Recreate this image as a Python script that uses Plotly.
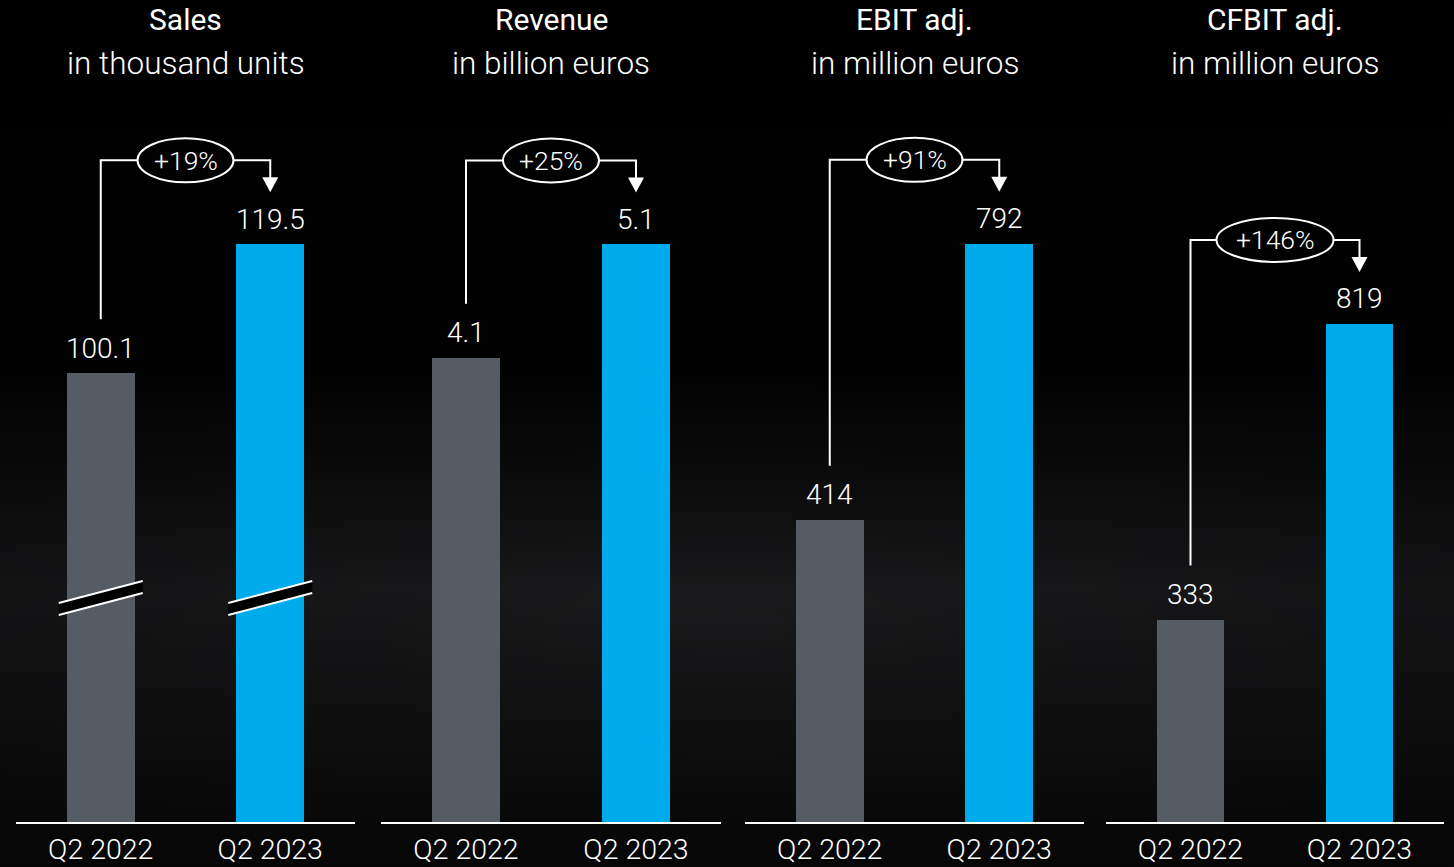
import base64
import plotly.graph_objects as go

# ---------------- data ----------------
categories = ["Q2 2022", "Q2 2023"]
titles = ["Sales", "Revenue", "EBIT adj.", "CFBIT adj."]
subtitles = ["in thousand units", "in billion euros", "in million euros", "in million euros"]
values_2022 = [100.1, 4.1, 414, 333]
values_2023 = [119.5, 5.1, 792, 819]
value_labels_2022 = ["100.1", "4.1", "414", "333"]
value_labels_2023 = ["119.5", "5.1", "792", "819"]
growth_labels = ["+19%", "+25%", "+91%", "+146%"]

# ---------------- style ----------------
GRAY = "#565c63"
BLUE = "#00abeb"
WHITE = "#ffffff"
FONT = "Roboto"
W, H = 1454, 867
x_domains = [(16, 355), (381, 721), (745, 1084), (1106, 1444)]
y_bottom_px, y_top_px = 822, 130
y_ranges = [(32.6, 136.7), (0, 6.11), (0, 948), (0, 1138)]
plot_h = y_bottom_px - y_top_px

# background gradient via SVG
svg = f'''<svg xmlns="http://www.w3.org/2000/svg" width="{W}" height="{H}" viewBox="0 0 {W} {H}" preserveAspectRatio="none">
<defs>
<linearGradient id="g" x1="0" y1="0" x2="0" y2="1">
<stop offset="0" stop-color="#000000"/>
<stop offset="0.42" stop-color="#020203"/>
<stop offset="0.68" stop-color="#1a1a1c"/>
<stop offset="1" stop-color="#09090a"/>
</linearGradient>
<radialGradient id="r" cx="0.5" cy="0.72" r="0.7" gradientTransform="translate(0.5 0.72) scale(1 0.45) translate(-0.5 -0.72)">
<stop offset="0" stop-color="#000" stop-opacity="0"/>
<stop offset="1" stop-color="#000" stop-opacity="0.35"/>
</radialGradient>
</defs>
<rect width="{W}" height="{H}" fill="url(#g)"/>
<rect width="{W}" height="{H}" fill="url(#r)"/>
</svg>'''
bg_src = "data:image/svg+xml;base64," + base64.b64encode(svg.encode()).decode()

fig = go.Figure()
shapes = []
annotations = []

for i in range(4):
    ax = "" if i == 0 else str(i + 1)
    xref, yref = "x" + ax, "y" + ax
    ymin, ymax = y_ranges[i]
    upp = (ymax - ymin) / plot_h               # data units per pixel
    dx0, dx1 = x_domains[i]
    xupp = 2.0 / (dx1 - dx0)                   # x units per pixel (range -0.5..1.5)

    fig.add_trace(go.Bar(
        x=[0, 1], y=[values_2022[i], values_2023[i]],
        marker=dict(color=[GRAY, BLUE], line=dict(width=0)),
        width=0.4, xaxis=xref, yaxis=yref, showlegend=False, hoverinfo="skip",
    ))

    layout_x = dict(
        domain=[dx0 / W, dx1 / W], range=[-0.5, 1.5], anchor=yref,
        tickmode="array", tickvals=[0, 1], ticktext=categories,
        showline=True, linecolor=WHITE, linewidth=2, ticks="",
        showgrid=False, zeroline=False, fixedrange=True, automargin=False,
        tickfont=dict(family=FONT, size=28.5, color=WHITE, weight=300),
        ticklabelstandoff=1,
    )
    layout_y = dict(
        domain=[1 - y_bottom_px / H, 1 - y_top_px / H], range=[ymin, ymax],
        anchor=xref, visible=False, showgrid=False, zeroline=False, fixedrange=True,
        automargin=False,
    )
    fig.update_layout(**{"xaxis" + ax: layout_x, "yaxis" + ax: layout_y})

    # value labels
    for xi, v, lab in [(0, values_2022[i], value_labels_2022[i]), (1, values_2023[i], value_labels_2023[i])]:
        annotations.append(dict(x=xi, y=v, xref=xref, yref=yref, text=lab, showarrow=False,
                                yanchor="middle", yshift=25,
                                font=dict(family=FONT, size=28, color=WHITE, weight=300)))

    # titles
    annotations.append(dict(x=0.5, y=1 - 20 / H, xref=xref + " domain", yref="paper", text=titles[i],
                            showarrow=False, yanchor="middle",
                            font=dict(family=FONT, size=30, color=WHITE, weight=400)))
    annotations.append(dict(x=0.5, y=1 - 63 / H, xref=xref + " domain", yref="paper", text=subtitles[i],
                            showarrow=False, yanchor="middle",
                            font=dict(family=FONT, size=31.5, color=WHITE, weight=300)))

    # growth arrow
    v0, v1 = values_2022[i], values_2023[i]
    y_start = v0 + 54 * upp
    y_level = v1 + 84 * upp
    y_tip = v1 + 52 * upp
    ell_hw = (48 if len(growth_labels[i]) <= 4 else 58.5) * xupp
    ell_hh = 22 * upp
    line = dict(color=WHITE, width=2)
    shapes.append(dict(type="path", xref=xref, yref=yref,
                       path=f"M 0 {y_start} L 0 {y_level} L {0.5 - ell_hw} {y_level}", line=line))
    shapes.append(dict(type="path", xref=xref, yref=yref,
                       path=f"M {0.5 + ell_hw} {y_level} L 1 {y_level} L 1 {y_tip + 12 * upp}", line=line))
    shapes.append(dict(type="path", xref=xref, yref=yref,
                       path=f"M {1 - 8 * xupp} {y_tip + 15 * upp} L {1 + 8 * xupp} {y_tip + 15 * upp} L 1 {y_tip} Z",
                       fillcolor=WHITE, line=dict(width=0)))
    shapes.append(dict(type="circle", xref=xref, yref=yref,
                       x0=0.5 - ell_hw, x1=0.5 + ell_hw, y0=y_level - ell_hh, y1=y_level + ell_hh,
                       line=line, fillcolor="rgba(0,0,0,0)"))
    annotations.append(dict(x=0.5, y=y_level, xref=xref, yref=yref, text=growth_labels[i],
                            showarrow=False, yanchor="middle",
                            font=dict(family=FONT, size=26.5, color=WHITE, weight=300)))

    # axis-break marks on the truncated first panel
    if i == 0:
        yc = ymin + 224 * upp
        for xc in (0, 1):
            xl, xr = xc - 42 * xupp, xc + 42 * xupp
            yl, yr = yc - 11 * upp, yc + 11 * upp
            t = 6 * upp
            shapes.append(dict(type="path", xref=xref, yref=yref,
                               path=f"M {xl} {yl + t} L {xr} {yr + t} L {xr} {yr - t} L {xl} {yl - t} Z",
                               fillcolor="#000000", line=dict(width=0)))
            shapes.append(dict(type="line", xref=xref, yref=yref, x0=xl, y0=yl + t, x1=xr, y1=yr + t,
                               line=dict(color=WHITE, width=2)))
            shapes.append(dict(type="line", xref=xref, yref=yref, x0=xl, y0=yl - t, x1=xr, y1=yr - t,
                               line=dict(color=WHITE, width=2)))

fig.update_layout(
    width=W, height=H, margin=dict(l=0, r=0, t=0, b=0, autoexpand=False),
    paper_bgcolor="#000000", plot_bgcolor="rgba(0,0,0,0)",
    shapes=shapes, annotations=annotations, bargap=0,
    images=[dict(source=bg_src, xref="paper", yref="paper", x=0, y=1, sizex=1, sizey=1,
                 sizing="stretch", layer="below", xanchor="left", yanchor="top")],
    font=dict(family=FONT, color=WHITE),
)

fig.write_html("out.html")
